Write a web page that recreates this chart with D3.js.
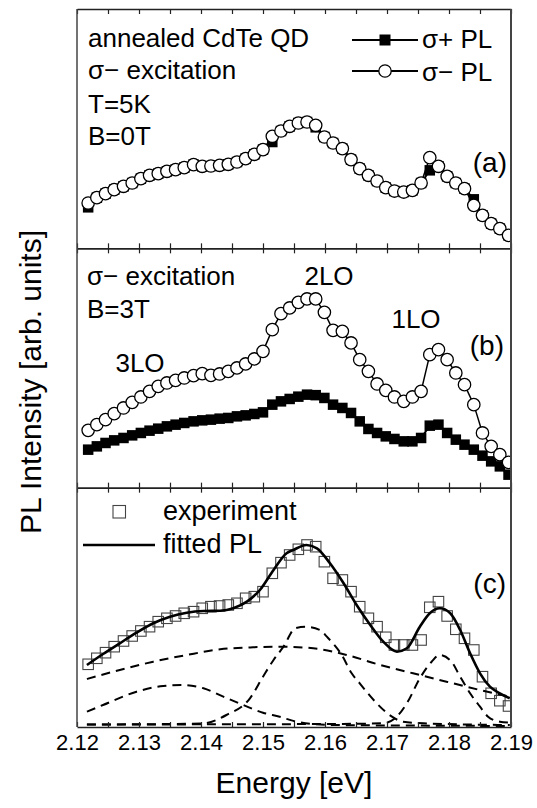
<!DOCTYPE html>
<html>
<head>
<meta charset="utf-8">
<script src="https://cdn.jsdelivr.net/npm/d3@7"></script>
<style>
  body { margin: 0; background: #fff; }
  text { font-family: "Liberation Sans", Arial, sans-serif; fill: #000; }
</style>
</head>
<body>
<div id="chart"></div>
<script>
// photon energy grid shared by all three panels [eV]
const energy = [
  2.1218, 2.1232, 2.1246, 2.1260, 2.1275, 2.1289, 2.1303, 2.1317, 2.1331, 2.1345,
  2.1359, 2.1373, 2.1388, 2.1402, 2.1416, 2.1430, 2.1444, 2.1458, 2.1472, 2.1486,
  2.1500, 2.1515, 2.1529, 2.1543, 2.1557, 2.1571, 2.1585, 2.1599, 2.1613, 2.1628,
  2.1642, 2.1656, 2.1670, 2.1684, 2.1698, 2.1712, 2.1727, 2.1741, 2.1755, 2.1769,
  2.1783, 2.1797, 2.1811, 2.1825, 2.1840, 2.1854, 2.1868, 2.1882, 2.1896
]

// (a) B = 0T
const aSigmaMinus = [
  45.3, 50.7, 54.7, 58.7, 62, 65.3, 69.7, 73, 74.7, 77,
  78.7, 80.7, 83.7, 82, 82.3, 83, 84, 86.3, 89.7, 94,
  98.7, 112, 117.3, 122, 125.3, 126.3, 123, 111.3, 105.3, 99.7,
  88.7, 79.7, 73, 67.3, 60.7, 57.3, 56.3, 58, 65.3, 90.7,
  82, 72, 65.3, 59.7, 43, 33, 24.7, 19.7, 13
]
const aSigmaPlus = [
  41, 50.7, 54.7, 58.7, 62, 65.3, 69.7, 73, 74.7, 77,
  78.7, 80.7, 83.7, 82, 82.3, 83, 84, 86.3, 89.7, 94,
  98.7, 106.3, 117.3, 122, 125.3, 126.3, 121, 111.3, 105.3, 99.7,
  88.7, 79.7, 73, 67.3, 60.7, 57.3, 56.3, 58, 65.3, 78,
  82, 72, 65.3, 59.7, 49, 33, 24.7, 19.7, 13
]

// (b) B = 3T
const bSigmaMinus = [
  57.3, 63, 68, 74, 79.7, 85.3, 90.7, 96.3, 101.3, 104.7,
  107.3, 109.7, 112, 114, 112.3, 113.7, 116.3, 119.7, 123.7, 128.7,
  136.3, 158, 174, 179.7, 185.3, 188.7, 188.7, 175.3, 157.3, 156.3,
  144.7, 128, 116.3, 103.7, 97.3, 90.7, 86.3, 90.7, 96.3, 133,
  138, 128, 114.7, 103, 83, 54.7, 41.3, 33, 25.3
]
const bSigmaPlus = [
  38, 41.3, 44.7, 47.3, 49.7, 52.3, 54.7, 57, 59, 61.3,
  63, 64.7, 66.3, 67.3, 68, 69, 69.7, 71.3, 72.3, 73.7,
  75.3, 83, 86.3, 88.7, 91, 93, 92.5, 89.7, 83, 79.7,
  74.7, 66.3, 58.7, 54.7, 51.3, 48.7, 46.3, 46.3, 49.7, 62,
  63, 54.7, 48, 43, 38, 32, 26.3, 21.3, 13
]

// (c) experiment and fit
const cExperiment = [
  62.7, 68.7, 74.3, 80.3, 86, 91, 96, 100.3, 105.3, 108.7,
  111, 113.7, 115.3, 118.7, 120.3, 121, 122, 123.7, 128.7, 130.3,
  135.3, 153.7, 164.3, 172, 177.7, 182, 180.3, 165.3, 148.7, 147,
  135.3, 120.3, 108.7, 100.3, 89.7, 82, 82, 82, 87, 119.7,
  125.3, 111, 97.7, 88.7, 77, 50.3, 33.7, 26.3, 21
]

const fitEnergy = [
  2.1216, 2.1242, 2.1269, 2.1296, 2.1323, 2.1350, 2.1377, 2.1404, 2.1431, 2.1452,
  2.1474, 2.1495, 2.1517, 2.1538, 2.1549, 2.1570, 2.1587, 2.1608, 2.1630, 2.1651,
  2.1673, 2.1694, 2.1716, 2.1732, 2.1753, 2.1769, 2.1785, 2.1802, 2.1818, 2.1834,
  2.1850, 2.1866, 2.1882, 2.1898
]
const fitPL = [
  62, 73, 83.7, 94.3, 103.7, 110.3, 114.3, 116, 116.3, 118.7,
  125.3, 137, 157, 173.7, 177, 182, 178.7, 163.7, 143.7, 122,
  102, 85.3, 75.3, 78.7, 100.3, 113.7, 118.7, 113.7, 97, 73.7,
  53.7, 40.3, 33.7, 28.7
]

// fitted components (dashed)
const broadEnergy = [2.1216, 2.1269, 2.1323, 2.1377, 2.1431, 2.1484, 2.1527, 2.1581, 2.1635, 2.1689, 2.1742, 2.1796, 2.1850, 2.1898]
const broadPL = [48, 57, 65.3, 72, 77.7, 79.7, 80.3, 78.7, 72, 62, 53.7, 45.3, 37, 30.3]

const lo3Energy = [2.1216, 2.1242, 2.1296, 2.1339, 2.1371, 2.1404, 2.1436, 2.1468, 2.1500, 2.1527, 2.1554, 2.1608, 2.1721, 2.1898]
const lo3PL = [15.3, 22, 35.3, 41, 42, 38.7, 30.3, 22, 14.3, 10.3, 5.3, 2, 1.5, 1]

const lo2Energy = [2.1216, 2.1350, 2.1404, 2.1441, 2.1479, 2.1500, 2.1517, 2.1533, 2.1552, 2.1568, 2.1592, 2.1603, 2.1627, 2.1643, 2.1656, 2.1681, 2.1708, 2.1726, 2.1759, 2.1898]
const lo2PL = [2.5, 3, 3.7, 12, 28.7, 50.3, 67, 80.3, 98.7, 100.3, 97, 90.3, 72, 53.7, 43.7, 25.3, 10.3, 5.3, 3.7, 2]

const lo1Energy = [2.1216, 2.1600, 2.1694, 2.1713, 2.1732, 2.1753, 2.1772, 2.1785, 2.1804, 2.1818, 2.1834, 2.1850, 2.1863, 2.1882, 2.1898]
const lo1PL = [2.5, 3, 3.7, 8.7, 23.7, 48.7, 65.3, 72, 65.3, 50.3, 33.7, 20.3, 10.3, 5.3, 4.3]

const tickValues = [2.12, 2.125, 2.13, 2.135, 2.14, 2.145, 2.15, 2.155, 2.16, 2.165, 2.17, 2.175, 2.18, 2.185, 2.19]
const tickLabels = ["2.12", "2.13", "2.14", "2.15", "2.16", "2.17", "2.18", "2.19"]

const width = 537
const height = 808
const plotLeft = 77, plotRight = 511, plotTop = 9, plotBottom = 727
const panelH = (plotBottom - plotTop) / 3
const yMax = 239.3

const svg = d3.select("#chart").append("svg")
  .attr("width", width)
  .attr("height", height)

const x = d3.scaleLinear().domain([2.12, 2.19]).range([plotLeft, plotRight])

const panels = [0, 1, 2].map((i) => {
  const y0 = plotTop + i * panelH
  const y = d3.scaleLinear().domain([0, yMax]).range([y0 + panelH, y0])
  svg.append("clipPath").attr("id", "clip" + i)
    .append("rect").attr("x", plotLeft).attr("y", y0).attr("width", plotRight - plotLeft).attr("height", panelH)
  const g = svg.append("g").attr("clip-path", `url(#clip${i})`)
  return { y0, y, g }
})

const lineOf = (y, xs, curve) => d3.line()
  .x((d, i) => x(xs[i]))
  .y((d) => y(d))
  .curve(curve || d3.curveLinear)

const drawSquares = (g, y, values, size, fill, stroke) => {
  g.append("g").selectAll("rect").data(values).join("rect")
    .attr("x", (d, i) => x(energy[i]) - size / 2)
    .attr("y", (d) => y(d) - size / 2)
    .attr("width", size)
    .attr("height", size)
    .attr("fill", fill)
    .attr("stroke", stroke)
    .attr("stroke-width", 1.1)
}

const drawCircles = (g, y, values) => {
  g.append("g").selectAll("circle").data(values).join("circle")
    .attr("cx", (d, i) => x(energy[i]))
    .attr("cy", (d) => y(d))
    .attr("r", 6.2)
    .attr("fill", "#fff")
    .attr("stroke", "#000")
    .attr("stroke-width", 1.3)
}

// panel (a)
{
  const { g, y } = panels[0]
  g.append("path").datum(aSigmaPlus).attr("d", lineOf(y, energy))
    .attr("fill", "none").attr("stroke", "#000").attr("stroke-width", 2)
  drawSquares(g, y, aSigmaPlus, 10.5, "#000", "none")
  g.append("path").datum(aSigmaMinus).attr("d", lineOf(y, energy))
    .attr("fill", "none").attr("stroke", "#000").attr("stroke-width", 1.5)
  drawCircles(g, y, aSigmaMinus)
}

// panel (b)
{
  const { g, y } = panels[1]
  g.append("path").datum(bSigmaPlus).attr("d", lineOf(y, energy))
    .attr("fill", "none").attr("stroke", "#000").attr("stroke-width", 2)
  drawSquares(g, y, bSigmaPlus, 10.5, "#000", "none")
  g.append("path").datum(bSigmaMinus).attr("d", lineOf(y, energy))
    .attr("fill", "none").attr("stroke", "#000").attr("stroke-width", 1.5)
  drawCircles(g, y, bSigmaMinus)
}

// panel (c)
{
  const { g, y } = panels[2]
  drawSquares(g, y, cExperiment, 10.5, "none", "#444")
  const comps = [[broadEnergy, broadPL], [lo3Energy, lo3PL], [lo2Energy, lo2PL], [lo1Energy, lo1PL]]
  comps.forEach(([xs, vs]) => {
    g.append("path").datum(vs).attr("d", lineOf(y, xs, d3.curveMonotoneX))
      .attr("fill", "none").attr("stroke", "#000").attr("stroke-width", 2)
      .attr("stroke-dasharray", "9,6")
  })
  g.append("path").datum(fitPL).attr("d", lineOf(y, fitEnergy, d3.curveMonotoneX))
    .attr("fill", "none").attr("stroke", "#000").attr("stroke-width", 2.6)
}

// frames and inward ticks
panels.forEach(({ y0 }, i) => {
  const isLast = i === 2
  const bottomAxis = d3.axisBottom(x)
    .tickValues(tickValues)
    .tickSizeInner(-5)
    .tickSizeOuter(0)
    .tickPadding(7)
    .tickFormat((d) => {
      const s = d3.format(".2f")(d)
      return isLast && tickLabels.includes(s) && Math.abs(d * 100 - Math.round(d * 100)) < 1e-6 ? s : ""
    })
  const topAxis = d3.axisTop(x).tickValues(tickValues).tickSizeInner(-5).tickSizeOuter(0).tickFormat("")

  const gb = svg.append("g").attr("transform", `translate(0,${y0 + panelH})`).call(bottomAxis)
  const gt = svg.append("g").attr("transform", `translate(0,${y0})`).call(topAxis)
  ;[gb, gt].forEach((ax) => {
    ax.select(".domain").attr("stroke", "#222").attr("stroke-width", 1.5)
    ax.selectAll(".tick line").attr("stroke", "#222").attr("stroke-width", 1.2)
    ax.selectAll(".tick text").style("font-size", "22px").attr("fill", "#000")
      .style("font-family", "'Liberation Sans', Arial, sans-serif")
  })
})

svg.append("line").attr("x1", plotLeft).attr("x2", plotLeft).attr("y1", plotTop).attr("y2", plotBottom)
  .attr("stroke", "#444").attr("stroke-width", 1.5)
svg.append("line").attr("x1", plotRight).attr("x2", plotRight).attr("y1", plotTop).attr("y2", plotBottom)
  .attr("stroke", "#444").attr("stroke-width", 2)

// texts
const label = (tx, ty, str, size, anchor) => svg.append("text")
  .attr("x", tx).attr("y", ty).attr("text-anchor", anchor || "start")
  .style("font-size", size + "px").text(str)

label(88, 47, "annealed CdTe QD", 26)
label(88, 79, "σ− excitation", 26)
label(88, 113, "T=5K", 26)
label(88, 145, "B=0T", 26)
label(507, 172, "(a)", 28, "end")

label(87, 285, "σ− excitation", 26)
label(87, 318, "B=3T", 26)
label(329, 285, "2LO", 26, "middle")
label(416, 328, "1LO", 26, "middle")
label(140, 372, "3LO", 26, "middle")
label(504, 355, "(b)", 28, "end")

label(506, 593, "(c)", 28, "end")

// legend (a)
const legend = svg.append("g")
legend.append("line").attr("x1", 352).attr("x2", 418).attr("y1", 40).attr("y2", 40)
  .attr("stroke", "#000").attr("stroke-width", 2)
legend.append("rect").attr("x", 385 - 5.5).attr("y", 40 - 5.5).attr("width", 11).attr("height", 11).attr("fill", "#000")
legend.append("line").attr("x1", 352).attr("x2", 418).attr("y1", 71).attr("y2", 71)
  .attr("stroke", "#000").attr("stroke-width", 2)
legend.append("circle").attr("cx", 385).attr("cy", 71).attr("r", 6.2).attr("fill", "#fff")
  .attr("stroke", "#000").attr("stroke-width", 1.3)
label(422, 48, "σ+ PL", 26)
label(422, 81, "σ− PL", 26)

// legend (c)
legend.append("rect").attr("x", 113).attr("y", 505.5).attr("width", 12.5).attr("height", 12.5)
  .attr("fill", "none").attr("stroke", "#444").attr("stroke-width", 1.1)
legend.append("line").attr("x1", 83).attr("x2", 155).attr("y1", 545).attr("y2", 545)
  .attr("stroke", "#000").attr("stroke-width", 2.6)
label(163, 520, "experiment", 27)
label(163, 553, "fitted PL", 27)

// axis titles
label(294, 793, "Energy [eV]", 30, "middle")
svg.append("text")
  .attr("transform", "translate(40.5,382) rotate(-90)")
  .attr("text-anchor", "middle")
  .style("font-size", "30px")
  .text("PL Intensity [arb. units]")
</script>
</body>
</html>
